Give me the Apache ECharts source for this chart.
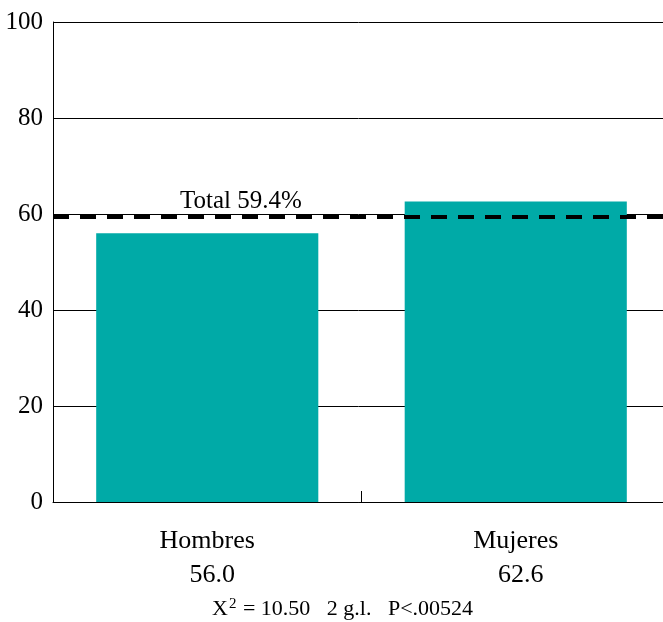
<!DOCTYPE html>
<html>
<head>
<meta charset="utf-8">
<script src="https://cdn.jsdelivr.net/npm/echarts@6/dist/echarts.min.js"></script>
<style>html,body{margin:0;padding:0;background:#fff}#c{width:663px;height:622px}</style>
</head>
<body>
<div id="c"></div>
<script>
const categories = ['Hombres', 'Mujeres'];
const values = [56.0, 62.6];
const totalValue = 59.4;
const yTicks = [0, 20, 40, 60, 80, 100];
const footnote = ['X', '2', ' = 10.50   2 g.l.   P<.00524'];

const FONT = 'Liberation Serif';
const chart = echarts.init(document.getElementById('c'), null, {renderer: 'canvas'});
chart.setOption({
  animation: false,
  backgroundColor: '#ffffff',
  grid: {left: 53, width: 617, top: 22, height: 480, containLabel: false, outerBoundsMode: 'none'},
  title: {
    text: '{a|' + footnote[0] + '}{s|' + footnote[1] + '}{a|' + footnote[2] + '}',
    left: 212, top: 597, padding: 0,
    textStyle: {
      fontWeight: 'normal',
      rich: {
        a: {fontFamily: FONT, fontSize: 22, fontWeight: 'normal', color: '#000', verticalAlign: 'bottom'},
        s: {fontFamily: FONT, fontSize: 15, fontWeight: 'normal', color: '#000', verticalAlign: 'top', padding: [0, 1, 8, 1]}
      }
    }
  },
  xAxis: {
    type: 'category',
    data: categories,
    boundaryGap: true,
    axisLine: {lineStyle: {color: '#000', width: 1}},
    axisTick: {show: true, inside: true, length: 11, lineStyle: {color: '#000', width: 1}},
    axisLabel: {
      margin: 22,
      fontFamily: FONT, fontSize: 26, color: '#000', lineHeight: 34,
      formatter: function (name, idx) { return '{n|' + name + '}\n{v|' + values[idx].toFixed(1) + '}'; },
      rich: {
        n: {fontFamily: FONT, fontSize: 26, color: '#000', lineHeight: 34},
        v: {fontFamily: FONT, fontSize: 26, color: '#000', lineHeight: 34, padding: [0, 0, 0, 10]}
      }
    }
  },
  yAxis: {
    type: 'value',
    min: yTicks[0], max: yTicks[yTicks.length - 1], interval: yTicks[1] - yTicks[0],
    axisLine: {show: true, lineStyle: {color: '#000', width: 1}},
    axisTick: {show: false},
    axisLabel: {margin: 10, fontFamily: FONT, fontSize: 25, color: '#000'},
    splitLine: {show: true, lineStyle: {color: '#000', width: 1}}
  },
  series: [{
    type: 'bar',
    data: values,
    barWidth: '72%',
    itemStyle: {color: '#00aaa7'},
    markLine: {
      silent: true,
      symbol: ['none', 'none'],
      z: 10,
      lineStyle: {color: '#000', width: 4, type: [16, 11]},
      label: {
        show: true,
        position: 'insideStartTop',
        formatter: 'Total ' + totalValue.toFixed(1) + '%',
        fontFamily: FONT, fontSize: 25, color: '#000',
        padding: [0, 0, 0, 124],
        distance: 3
      },
      data: [{yAxis: totalValue}]
    }
  }]
});
</script>
</body>
</html>
